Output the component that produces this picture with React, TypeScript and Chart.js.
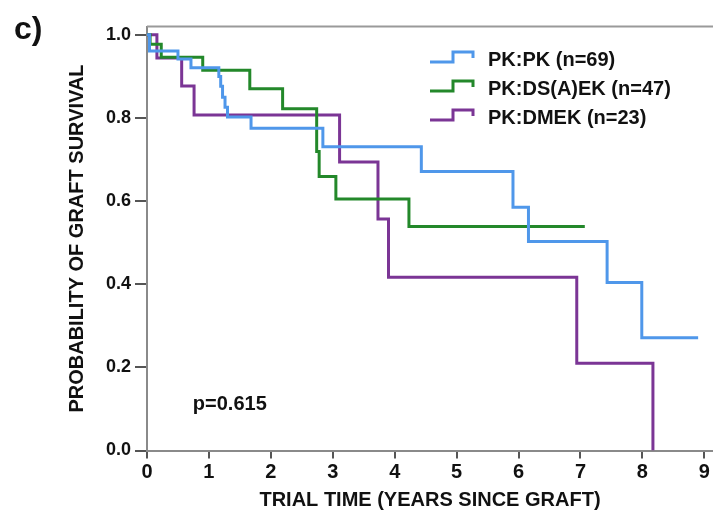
import { useEffect, useRef } from "react";
import { Chart, registerables } from "chart.js";

Chart.register(...registerables);

// Kaplan–Meier estimates: time of each step (years) and survival after it
const pkpkTimes = [0, 0.04, 0.5, 0.71, 1.16, 1.19, 1.22, 1.26, 1.3, 1.68, 2.84, 4.43, 5.91, 6.16, 7.43, 7.99, 8.9];
const pkpkSurvival = [1.0, 0.961, 0.942, 0.921, 0.9, 0.876, 0.85, 0.826, 0.802, 0.775, 0.731, 0.671, 0.585, 0.503, 0.404, 0.271, 0.271];

const dsaekTimes = [0, 0.05, 0.23, 0.9, 1.66, 2.19, 2.74, 2.78, 3.05, 4.23, 7.07];
const dsaekSurvival = [1.0, 0.977, 0.946, 0.915, 0.87, 0.822, 0.719, 0.659, 0.605, 0.539, 0.539];

const dmekTimes = [0, 0.16, 0.56, 0.76, 3.11, 3.73, 3.9, 6.94, 8.17];
const dmekSurvival = [1.0, 0.944, 0.877, 0.807, 0.694, 0.557, 0.417, 0.21, 0.0];

const seriesLabels = ["PK:PK (n=69)", "PK:DS(A)EK (n=47)", "PK:DMEK (n=23)"];
const seriesColors = ["#4f97ea", "#23882a", "#7b3595"];

const xTicks = [0, 1, 2, 3, 4, 5, 6, 7, 8, 9];
const yTicks = [0, 0.2, 0.4, 0.6, 0.8, 1.0];

const xTitle = "TRIAL TIME (YEARS SINCE GRAFT)";
const yTitle = "PROBABILITY OF GRAFT SURVIVAL";
const pValueLabel = "p=0.615";
const panelLabel = "c)";

const FONT = '"Liberation Sans", Arial, sans-serif';
const TEXT = "#111111";

const toPoints = (times: number[], values: number[]) =>
  times.map((t, i) => ({ x: t, y: values[i] }));

// Frame line, in-plot legend with step-shaped keys, p-value and panel letter
const decorations = {
  id: "decorations",
  afterDatasetsDraw(chart: any) {
    const { ctx, chartArea, scales } = chart;
    ctx.save();

    ctx.strokeStyle = "#9a9a9a";
    ctx.lineWidth = 2;
    ctx.beginPath();
    ctx.moveTo(chartArea.left, chartArea.top);
    ctx.lineTo(chartArea.right, chartArea.top);
    ctx.stroke();

    const keyLeft = chartArea.right - 283;
    const rowTop = 60;
    const rowStep = 29;
    ctx.font = `bold 20px ${FONT}`;
    ctx.textBaseline = "middle";
    ctx.textAlign = "left";
    chart.data.datasets.forEach((ds: any, i: number) => {
      const cy = rowTop + i * rowStep;
      ctx.strokeStyle = ds.borderColor;
      ctx.lineWidth = 3;
      ctx.lineJoin = "miter";
      ctx.beginPath();
      ctx.moveTo(keyLeft, cy + 2);
      ctx.lineTo(keyLeft + 23, cy + 2);
      ctx.lineTo(keyLeft + 23, cy - 8);
      ctx.lineTo(keyLeft + 43, cy - 8);
      ctx.lineTo(keyLeft + 43, cy - 2);
      ctx.stroke();
      ctx.fillStyle = TEXT;
      ctx.fillText(ds.label, keyLeft + 58, cy);
    });

    ctx.fillStyle = TEXT;
    ctx.font = `bold 20px ${FONT}`;
    ctx.fillText(pValueLabel, scales.x.getPixelForValue(0.74), scales.y.getPixelForValue(0.11));

    ctx.font = `bold 32px ${FONT}`;
    ctx.fillText(panelLabel, 14, 30);

    ctx.restore();
  },
};

export default function App() {
  const canvasRef = useRef<HTMLCanvasElement | null>(null);

  useEffect(() => {
    if (!canvasRef.current) return;
    const series = [
      toPoints(pkpkTimes, pkpkSurvival),
      toPoints(dsaekTimes, dsaekSurvival),
      toPoints(dmekTimes, dmekSurvival),
    ];
    const chart = new Chart(canvasRef.current, {
      type: "line",
      data: {
        datasets: series.map((data, i) => ({
          label: seriesLabels[i],
          data,
          borderColor: seriesColors[i],
          backgroundColor: seriesColors[i],
          borderWidth: 3,
          pointRadius: 0,
          stepped: "before" as const,
          fill: false,
        })),
      },
      options: {
        animation: false,
        responsive: true,
        maintainAspectRatio: false,
        layout: { padding: { top: 26.5, right: 0, left: 0, bottom: 0 } },
        plugins: {
          legend: { display: false },
          tooltip: { enabled: false },
        },
        scales: {
          x: {
            type: "linear",
            min: 0,
            max: 9.14,
            afterBuildTicks: (scale: any) => {
              scale.ticks = xTicks.map((v) => ({ value: v }));
            },
            afterFit: (scale: any) => {
              scale.height = 67.5;
            },
            ticks: {
              color: TEXT,
              font: { family: FONT, size: 20, weight: "bold" },
              padding: 2,
              maxRotation: 0,
              callback: (v: any) => String(v),
            },
            grid: {
              display: true,
              drawOnChartArea: false,
              drawTicks: true,
              tickLength: 8,
              color: "#555555",
              lineWidth: 2,
            },
            border: { display: true, color: "#8a8a8a", width: 2 },
            title: {
              display: true,
              text: xTitle,
              color: TEXT,
              font: { family: FONT, size: 20, weight: "bold" },
              padding: { top: 0, bottom: 6 },
            },
          },
          y: {
            type: "linear",
            min: 0,
            max: 1.02,
            afterBuildTicks: (scale: any) => {
              scale.ticks = yTicks.map((v) => ({ value: v }));
            },
            afterFit: (scale: any) => {
              scale.width = 147;
            },
            ticks: {
              color: TEXT,
              font: { family: FONT, size: 18, weight: "bold" },
              padding: 4,
              callback: (v: any) => Number(v).toFixed(1),
            },
            grid: {
              display: true,
              drawOnChartArea: false,
              drawTicks: true,
              tickLength: 12,
              color: "#555555",
              lineWidth: 2,
            },
            border: { display: true, color: "#8a8a8a", width: 2 },
            title: {
              display: true,
              text: yTitle,
              color: TEXT,
              font: { family: FONT, size: 20, weight: "bold" },
              padding: { top: 65, bottom: 0 },
            },
          },
        },
      },
      plugins: [decorations],
    });
    return () => chart.destroy();
  }, []);

  return (
    <div style={{ position: "absolute", left: 0, top: 0, width: 713, height: 518, background: "#ffffff" }}>
      <canvas ref={canvasRef} />
    </div>
  );
}
